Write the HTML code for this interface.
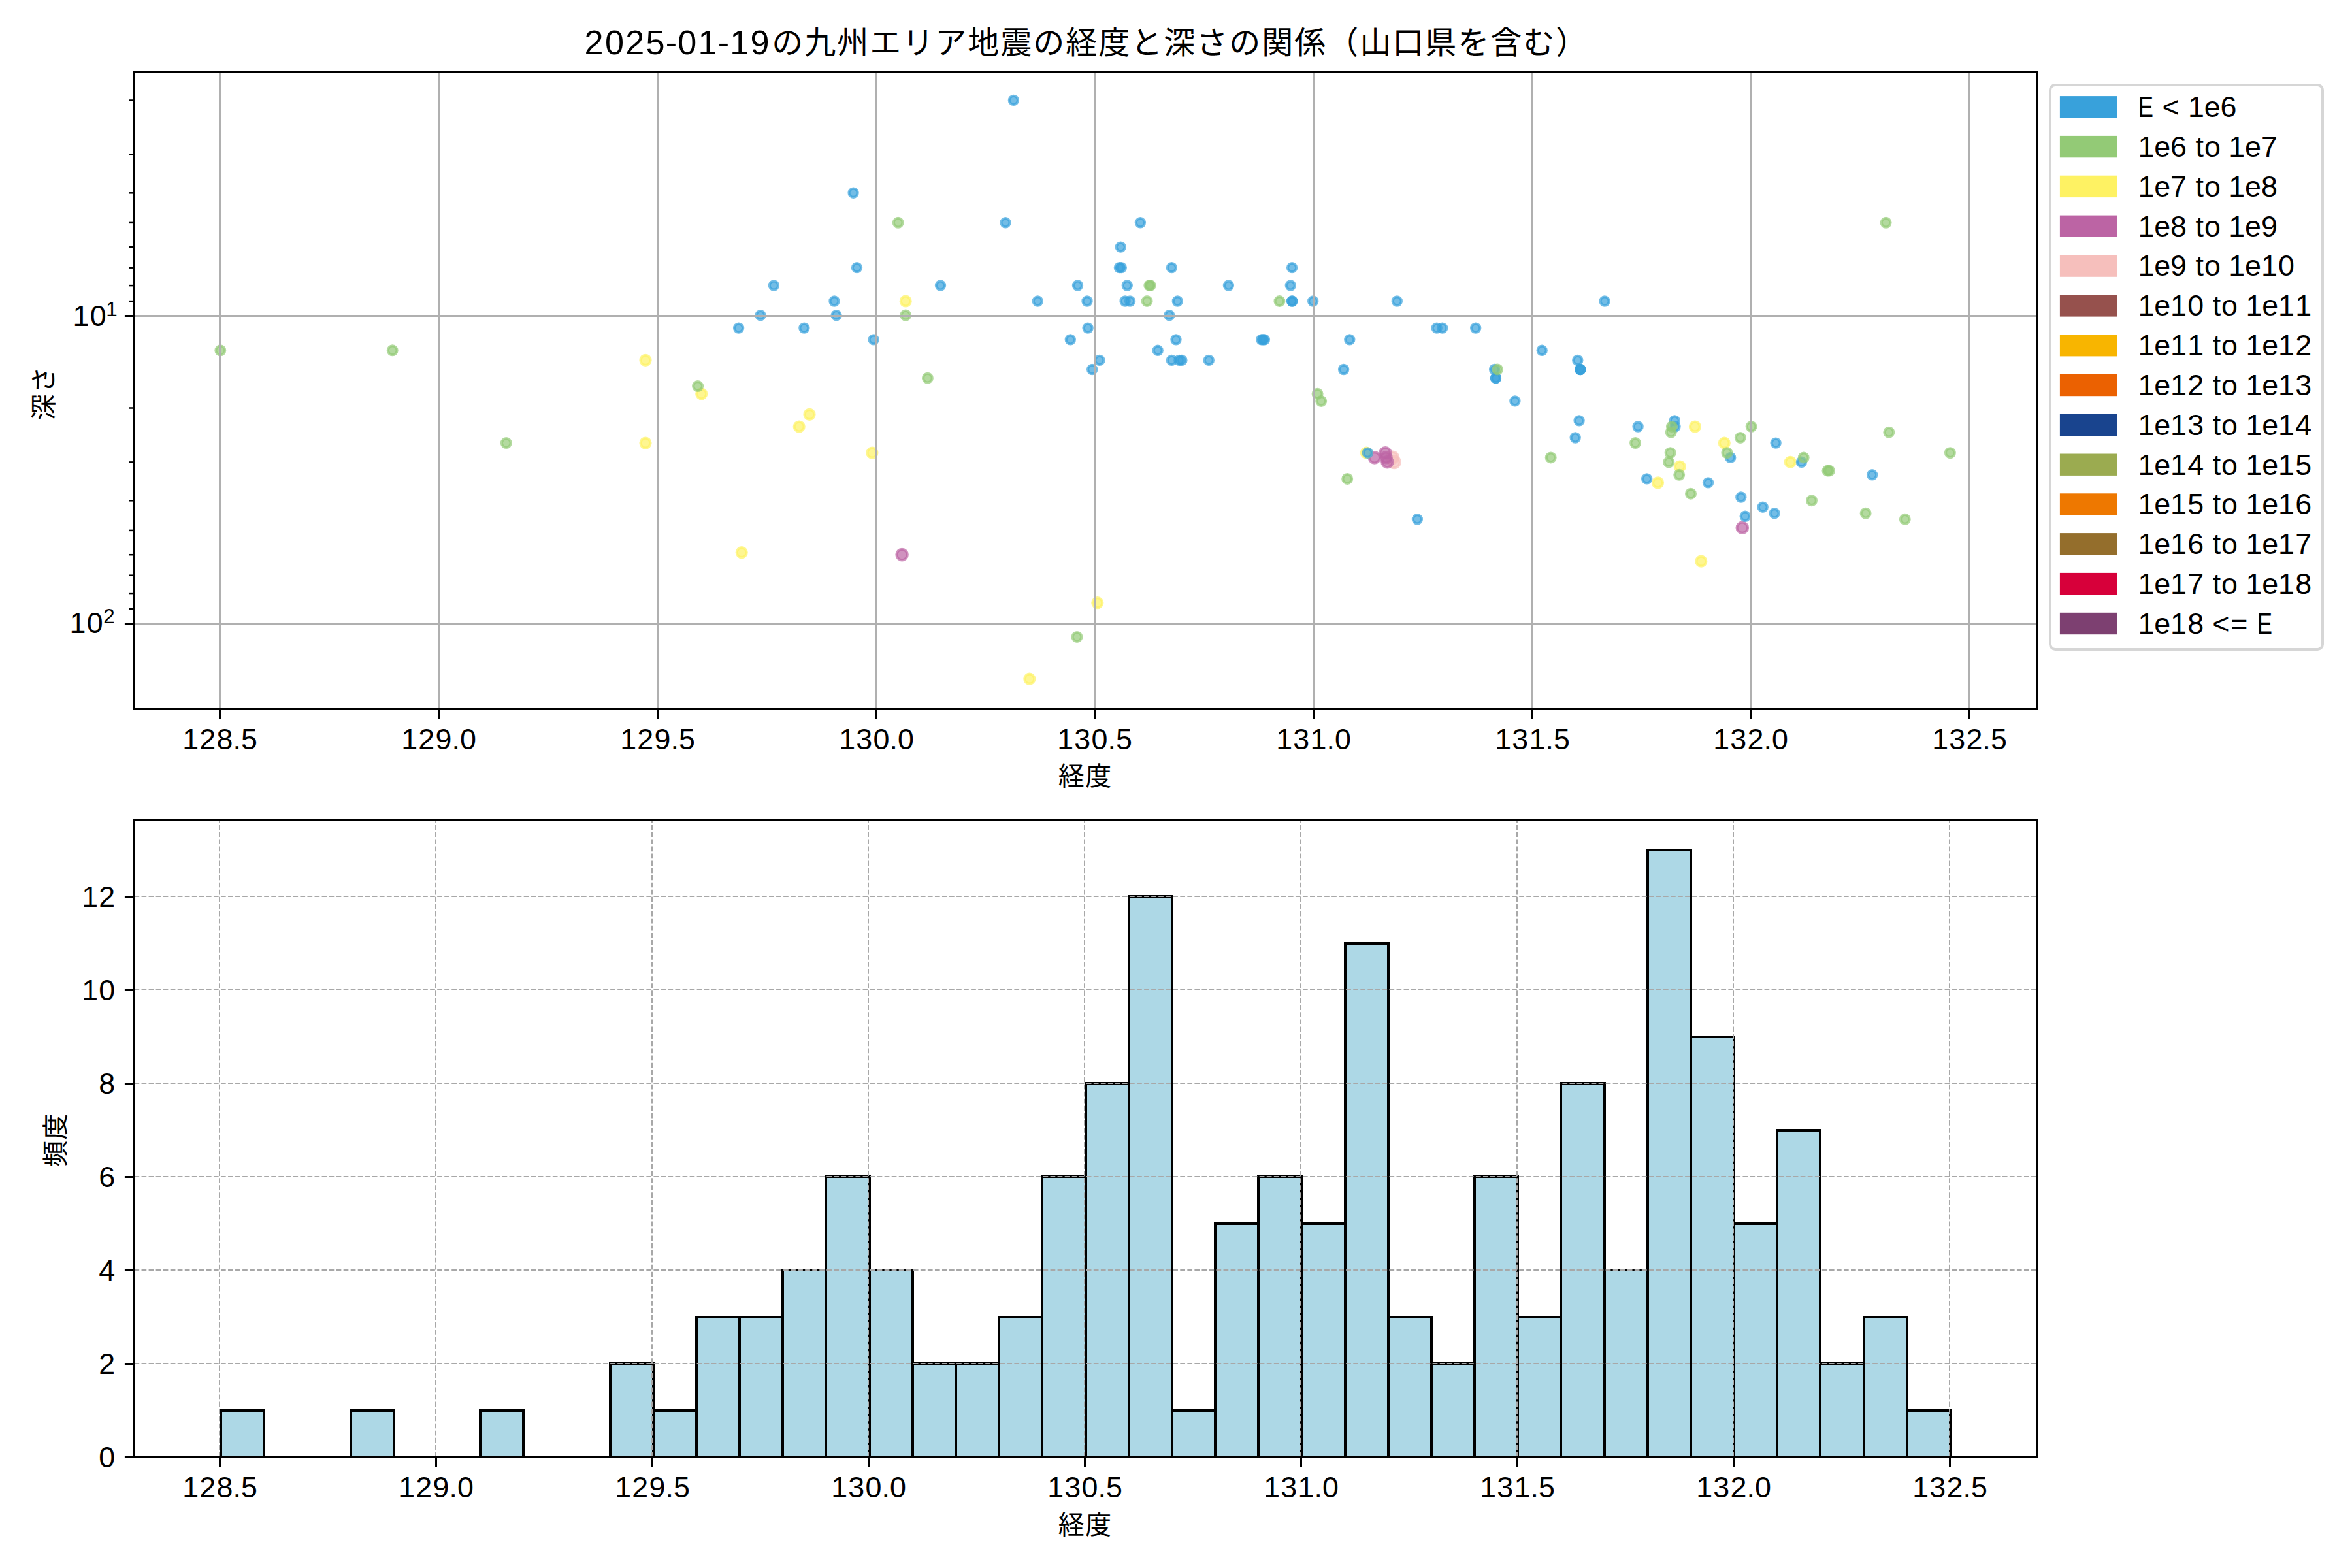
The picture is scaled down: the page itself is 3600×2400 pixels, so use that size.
<!DOCTYPE html>
<html lang="ja"><head><meta charset="utf-8"><title>2025-01-19の九州エリア地震の経度と深さの関係</title>
<style>html,body{margin:0;padding:0;background:#fff}svg{display:block}text{font-family:"Liberation Sans", "Noto Sans CJK JP", sans-serif;fill:#000}</style></head><body>
<svg width="3600" height="2400" viewBox="0 0 3600 2400">
<rect width="3600" height="2400" fill="#fff"/>
<g id="scatter">
<circle cx="2131.4" cy="700.4" r="8.80" fill="#f6bfbc" fill-opacity=".7" stroke="#f6bfbc" stroke-opacity=".7" stroke-width="4.17"/>
<circle cx="2134.0" cy="707.3" r="8.80" fill="#f6bfbc" fill-opacity=".7" stroke="#f6bfbc" stroke-opacity=".7" stroke-width="4.17"/>
<circle cx="2120.5" cy="693.2" r="8.20" fill="#bc64a4" fill-opacity=".7" stroke="#bc64a4" stroke-opacity=".7" stroke-width="4.17"/>
<circle cx="2121.5" cy="700.4" r="8.20" fill="#bc64a4" fill-opacity=".7" stroke="#bc64a4" stroke-opacity=".7" stroke-width="4.17"/>
<circle cx="2123.5" cy="707.3" r="8.20" fill="#bc64a4" fill-opacity=".7" stroke="#bc64a4" stroke-opacity=".7" stroke-width="4.17"/>
<circle cx="2103.9" cy="700.4" r="8.20" fill="#bc64a4" fill-opacity=".7" stroke="#bc64a4" stroke-opacity=".7" stroke-width="4.17"/>
<circle cx="1380.6" cy="849.1" r="8.20" fill="#bc64a4" fill-opacity=".7" stroke="#bc64a4" stroke-opacity=".7" stroke-width="4.17"/>
<circle cx="2666.8" cy="807.7" r="8.20" fill="#bc64a4" fill-opacity=".7" stroke="#bc64a4" stroke-opacity=".7" stroke-width="4.17"/>
<circle cx="988.0" cy="551.4" r="7.50" fill="#fef263" fill-opacity=".7" stroke="#fef263" stroke-opacity=".7" stroke-width="4.17"/>
<circle cx="988.0" cy="678.1" r="7.50" fill="#fef263" fill-opacity=".7" stroke="#fef263" stroke-opacity=".7" stroke-width="4.17"/>
<circle cx="1386.2" cy="461.0" r="7.50" fill="#fef263" fill-opacity=".7" stroke="#fef263" stroke-opacity=".7" stroke-width="4.17"/>
<circle cx="1073.7" cy="602.8" r="7.50" fill="#fef263" fill-opacity=".7" stroke="#fef263" stroke-opacity=".7" stroke-width="4.17"/>
<circle cx="1239.0" cy="634.4" r="7.50" fill="#fef263" fill-opacity=".7" stroke="#fef263" stroke-opacity=".7" stroke-width="4.17"/>
<circle cx="1223.2" cy="653.0" r="7.50" fill="#fef263" fill-opacity=".7" stroke="#fef263" stroke-opacity=".7" stroke-width="4.17"/>
<circle cx="1334.9" cy="693.2" r="7.50" fill="#fef263" fill-opacity=".7" stroke="#fef263" stroke-opacity=".7" stroke-width="4.17"/>
<circle cx="1135.2" cy="845.7" r="7.50" fill="#fef263" fill-opacity=".7" stroke="#fef263" stroke-opacity=".7" stroke-width="4.17"/>
<circle cx="2091.4" cy="693.2" r="7.50" fill="#fef263" fill-opacity=".7" stroke="#fef263" stroke-opacity=".7" stroke-width="4.17"/>
<circle cx="2594.4" cy="653.0" r="7.50" fill="#fef263" fill-opacity=".7" stroke="#fef263" stroke-opacity=".7" stroke-width="4.17"/>
<circle cx="2639.3" cy="678.1" r="7.50" fill="#fef263" fill-opacity=".7" stroke="#fef263" stroke-opacity=".7" stroke-width="4.17"/>
<circle cx="2571.2" cy="714.0" r="7.50" fill="#fef263" fill-opacity=".7" stroke="#fef263" stroke-opacity=".7" stroke-width="4.17"/>
<circle cx="2537.5" cy="738.9" r="7.50" fill="#fef263" fill-opacity=".7" stroke="#fef263" stroke-opacity=".7" stroke-width="4.17"/>
<circle cx="2740.3" cy="707.3" r="7.50" fill="#fef263" fill-opacity=".7" stroke="#fef263" stroke-opacity=".7" stroke-width="4.17"/>
<circle cx="2603.8" cy="859.1" r="7.50" fill="#fef263" fill-opacity=".7" stroke="#fef263" stroke-opacity=".7" stroke-width="4.17"/>
<circle cx="1679.8" cy="922.7" r="7.50" fill="#fef263" fill-opacity=".7" stroke="#fef263" stroke-opacity=".7" stroke-width="4.17"/>
<circle cx="1575.8" cy="1039.2" r="7.50" fill="#fef263" fill-opacity=".7" stroke="#fef263" stroke-opacity=".7" stroke-width="4.17"/>
<circle cx="1306.1" cy="295.2" r="6.60" fill="#38a1db" fill-opacity=".7" stroke="#38a1db" stroke-opacity=".7" stroke-width="4.17"/>
<circle cx="1539.0" cy="340.8" r="6.60" fill="#38a1db" fill-opacity=".7" stroke="#38a1db" stroke-opacity=".7" stroke-width="4.17"/>
<circle cx="1551.4" cy="153.4" r="6.60" fill="#38a1db" fill-opacity=".7" stroke="#38a1db" stroke-opacity=".7" stroke-width="4.17"/>
<circle cx="1311.5" cy="409.6" r="6.60" fill="#38a1db" fill-opacity=".7" stroke="#38a1db" stroke-opacity=".7" stroke-width="4.17"/>
<circle cx="1184.4" cy="437.0" r="6.60" fill="#38a1db" fill-opacity=".7" stroke="#38a1db" stroke-opacity=".7" stroke-width="4.17"/>
<circle cx="1439.5" cy="437.0" r="6.60" fill="#38a1db" fill-opacity=".7" stroke="#38a1db" stroke-opacity=".7" stroke-width="4.17"/>
<circle cx="1277.0" cy="461.0" r="6.60" fill="#38a1db" fill-opacity=".7" stroke="#38a1db" stroke-opacity=".7" stroke-width="4.17"/>
<circle cx="1164.0" cy="482.6" r="6.60" fill="#38a1db" fill-opacity=".7" stroke="#38a1db" stroke-opacity=".7" stroke-width="4.17"/>
<circle cx="1280.1" cy="482.6" r="6.60" fill="#38a1db" fill-opacity=".7" stroke="#38a1db" stroke-opacity=".7" stroke-width="4.17"/>
<circle cx="1130.6" cy="502.1" r="6.60" fill="#38a1db" fill-opacity=".7" stroke="#38a1db" stroke-opacity=".7" stroke-width="4.17"/>
<circle cx="1230.9" cy="502.1" r="6.60" fill="#38a1db" fill-opacity=".7" stroke="#38a1db" stroke-opacity=".7" stroke-width="4.17"/>
<circle cx="1337.2" cy="519.9" r="6.60" fill="#38a1db" fill-opacity=".7" stroke="#38a1db" stroke-opacity=".7" stroke-width="4.17"/>
<circle cx="1745.4" cy="340.8" r="6.60" fill="#38a1db" fill-opacity=".7" stroke="#38a1db" stroke-opacity=".7" stroke-width="4.17"/>
<circle cx="1715.3" cy="378.1" r="6.60" fill="#38a1db" fill-opacity=".7" stroke="#38a1db" stroke-opacity=".7" stroke-width="4.17"/>
<circle cx="1713.4" cy="409.6" r="6.60" fill="#38a1db" fill-opacity=".7" stroke="#38a1db" stroke-opacity=".7" stroke-width="4.17"/>
<circle cx="1716.3" cy="409.6" r="6.60" fill="#38a1db" fill-opacity=".7" stroke="#38a1db" stroke-opacity=".7" stroke-width="4.17"/>
<circle cx="1793.4" cy="409.6" r="6.60" fill="#38a1db" fill-opacity=".7" stroke="#38a1db" stroke-opacity=".7" stroke-width="4.17"/>
<circle cx="1977.6" cy="409.6" r="6.60" fill="#38a1db" fill-opacity=".7" stroke="#38a1db" stroke-opacity=".7" stroke-width="4.17"/>
<circle cx="1649.5" cy="437.0" r="6.60" fill="#38a1db" fill-opacity=".7" stroke="#38a1db" stroke-opacity=".7" stroke-width="4.17"/>
<circle cx="1725.3" cy="437.0" r="6.60" fill="#38a1db" fill-opacity=".7" stroke="#38a1db" stroke-opacity=".7" stroke-width="4.17"/>
<circle cx="1880.4" cy="437.0" r="6.60" fill="#38a1db" fill-opacity=".7" stroke="#38a1db" stroke-opacity=".7" stroke-width="4.17"/>
<circle cx="1975.3" cy="437.0" r="6.60" fill="#38a1db" fill-opacity=".7" stroke="#38a1db" stroke-opacity=".7" stroke-width="4.17"/>
<circle cx="1588.3" cy="461.0" r="6.60" fill="#38a1db" fill-opacity=".7" stroke="#38a1db" stroke-opacity=".7" stroke-width="4.17"/>
<circle cx="1664.0" cy="461.0" r="6.60" fill="#38a1db" fill-opacity=".7" stroke="#38a1db" stroke-opacity=".7" stroke-width="4.17"/>
<circle cx="1722.1" cy="461.0" r="6.60" fill="#38a1db" fill-opacity=".7" stroke="#38a1db" stroke-opacity=".7" stroke-width="4.17"/>
<circle cx="1729.6" cy="461.0" r="6.60" fill="#38a1db" fill-opacity=".7" stroke="#38a1db" stroke-opacity=".7" stroke-width="4.17"/>
<circle cx="1802.3" cy="461.0" r="6.60" fill="#38a1db" fill-opacity=".7" stroke="#38a1db" stroke-opacity=".7" stroke-width="4.17"/>
<circle cx="1977.7" cy="461.0" r="6.60" fill="#38a1db" fill-opacity=".7" stroke="#38a1db" stroke-opacity=".7" stroke-width="4.17"/>
<circle cx="1977.7" cy="461.0" r="6.60" fill="#38a1db" fill-opacity=".7" stroke="#38a1db" stroke-opacity=".7" stroke-width="4.17"/>
<circle cx="2009.7" cy="461.0" r="6.60" fill="#38a1db" fill-opacity=".7" stroke="#38a1db" stroke-opacity=".7" stroke-width="4.17"/>
<circle cx="1789.8" cy="482.6" r="6.60" fill="#38a1db" fill-opacity=".7" stroke="#38a1db" stroke-opacity=".7" stroke-width="4.17"/>
<circle cx="1665.1" cy="502.1" r="6.60" fill="#38a1db" fill-opacity=".7" stroke="#38a1db" stroke-opacity=".7" stroke-width="4.17"/>
<circle cx="1638.3" cy="519.9" r="6.60" fill="#38a1db" fill-opacity=".7" stroke="#38a1db" stroke-opacity=".7" stroke-width="4.17"/>
<circle cx="1800.0" cy="519.9" r="6.60" fill="#38a1db" fill-opacity=".7" stroke="#38a1db" stroke-opacity=".7" stroke-width="4.17"/>
<circle cx="1930.8" cy="519.9" r="6.60" fill="#38a1db" fill-opacity=".7" stroke="#38a1db" stroke-opacity=".7" stroke-width="4.17"/>
<circle cx="1933.1" cy="519.9" r="6.60" fill="#38a1db" fill-opacity=".7" stroke="#38a1db" stroke-opacity=".7" stroke-width="4.17"/>
<circle cx="1935.4" cy="519.9" r="6.60" fill="#38a1db" fill-opacity=".7" stroke="#38a1db" stroke-opacity=".7" stroke-width="4.17"/>
<circle cx="2065.8" cy="519.9" r="6.60" fill="#38a1db" fill-opacity=".7" stroke="#38a1db" stroke-opacity=".7" stroke-width="4.17"/>
<circle cx="1772.2" cy="536.3" r="6.60" fill="#38a1db" fill-opacity=".7" stroke="#38a1db" stroke-opacity=".7" stroke-width="4.17"/>
<circle cx="1682.9" cy="551.4" r="6.60" fill="#38a1db" fill-opacity=".7" stroke="#38a1db" stroke-opacity=".7" stroke-width="4.17"/>
<circle cx="1793.4" cy="551.4" r="6.60" fill="#38a1db" fill-opacity=".7" stroke="#38a1db" stroke-opacity=".7" stroke-width="4.17"/>
<circle cx="1804.9" cy="551.4" r="6.60" fill="#38a1db" fill-opacity=".7" stroke="#38a1db" stroke-opacity=".7" stroke-width="4.17"/>
<circle cx="1808.9" cy="551.4" r="6.60" fill="#38a1db" fill-opacity=".7" stroke="#38a1db" stroke-opacity=".7" stroke-width="4.17"/>
<circle cx="1850.3" cy="551.4" r="6.60" fill="#38a1db" fill-opacity=".7" stroke="#38a1db" stroke-opacity=".7" stroke-width="4.17"/>
<circle cx="1671.7" cy="565.5" r="6.60" fill="#38a1db" fill-opacity=".7" stroke="#38a1db" stroke-opacity=".7" stroke-width="4.17"/>
<circle cx="2056.6" cy="565.5" r="6.60" fill="#38a1db" fill-opacity=".7" stroke="#38a1db" stroke-opacity=".7" stroke-width="4.17"/>
<circle cx="2138.3" cy="461.0" r="6.60" fill="#38a1db" fill-opacity=".7" stroke="#38a1db" stroke-opacity=".7" stroke-width="4.17"/>
<circle cx="2456.1" cy="461.0" r="6.60" fill="#38a1db" fill-opacity=".7" stroke="#38a1db" stroke-opacity=".7" stroke-width="4.17"/>
<circle cx="2199.2" cy="502.1" r="6.60" fill="#38a1db" fill-opacity=".7" stroke="#38a1db" stroke-opacity=".7" stroke-width="4.17"/>
<circle cx="2207.7" cy="502.1" r="6.60" fill="#38a1db" fill-opacity=".7" stroke="#38a1db" stroke-opacity=".7" stroke-width="4.17"/>
<circle cx="2258.7" cy="502.1" r="6.60" fill="#38a1db" fill-opacity=".7" stroke="#38a1db" stroke-opacity=".7" stroke-width="4.17"/>
<circle cx="2360.2" cy="536.3" r="6.60" fill="#38a1db" fill-opacity=".7" stroke="#38a1db" stroke-opacity=".7" stroke-width="4.17"/>
<circle cx="2414.8" cy="551.4" r="6.60" fill="#38a1db" fill-opacity=".7" stroke="#38a1db" stroke-opacity=".7" stroke-width="4.17"/>
<circle cx="2418.8" cy="565.5" r="6.60" fill="#38a1db" fill-opacity=".7" stroke="#38a1db" stroke-opacity=".7" stroke-width="4.17"/>
<circle cx="2418.8" cy="565.5" r="6.60" fill="#38a1db" fill-opacity=".7" stroke="#38a1db" stroke-opacity=".7" stroke-width="4.17"/>
<circle cx="2418.8" cy="565.5" r="6.60" fill="#38a1db" fill-opacity=".7" stroke="#38a1db" stroke-opacity=".7" stroke-width="4.17"/>
<circle cx="2287.6" cy="565.5" r="6.60" fill="#38a1db" fill-opacity=".7" stroke="#38a1db" stroke-opacity=".7" stroke-width="4.17"/>
<circle cx="2289.5" cy="578.7" r="6.60" fill="#38a1db" fill-opacity=".7" stroke="#38a1db" stroke-opacity=".7" stroke-width="4.17"/>
<circle cx="2289.5" cy="578.7" r="6.60" fill="#38a1db" fill-opacity=".7" stroke="#38a1db" stroke-opacity=".7" stroke-width="4.17"/>
<circle cx="2318.9" cy="613.9" r="6.60" fill="#38a1db" fill-opacity=".7" stroke="#38a1db" stroke-opacity=".7" stroke-width="4.17"/>
<circle cx="2417.1" cy="643.9" r="6.60" fill="#38a1db" fill-opacity=".7" stroke="#38a1db" stroke-opacity=".7" stroke-width="4.17"/>
<circle cx="2411.2" cy="670.0" r="6.60" fill="#38a1db" fill-opacity=".7" stroke="#38a1db" stroke-opacity=".7" stroke-width="4.17"/>
<circle cx="2507.1" cy="653.0" r="6.60" fill="#38a1db" fill-opacity=".7" stroke="#38a1db" stroke-opacity=".7" stroke-width="4.17"/>
<circle cx="2563.3" cy="643.9" r="6.60" fill="#38a1db" fill-opacity=".7" stroke="#38a1db" stroke-opacity=".7" stroke-width="4.17"/>
<circle cx="2564.0" cy="653.0" r="6.60" fill="#38a1db" fill-opacity=".7" stroke="#38a1db" stroke-opacity=".7" stroke-width="4.17"/>
<circle cx="2648.7" cy="700.4" r="6.60" fill="#38a1db" fill-opacity=".7" stroke="#38a1db" stroke-opacity=".7" stroke-width="4.17"/>
<circle cx="2520.7" cy="732.9" r="6.60" fill="#38a1db" fill-opacity=".7" stroke="#38a1db" stroke-opacity=".7" stroke-width="4.17"/>
<circle cx="2614.5" cy="738.9" r="6.60" fill="#38a1db" fill-opacity=".7" stroke="#38a1db" stroke-opacity=".7" stroke-width="4.17"/>
<circle cx="2169.4" cy="794.8" r="6.60" fill="#38a1db" fill-opacity=".7" stroke="#38a1db" stroke-opacity=".7" stroke-width="4.17"/>
<circle cx="2093.4" cy="693.2" r="6.60" fill="#38a1db" fill-opacity=".7" stroke="#38a1db" stroke-opacity=".7" stroke-width="4.17"/>
<circle cx="2718.1" cy="678.1" r="6.60" fill="#38a1db" fill-opacity=".7" stroke="#38a1db" stroke-opacity=".7" stroke-width="4.17"/>
<circle cx="2757.4" cy="707.3" r="6.60" fill="#38a1db" fill-opacity=".7" stroke="#38a1db" stroke-opacity=".7" stroke-width="4.17"/>
<circle cx="2865.6" cy="726.8" r="6.60" fill="#38a1db" fill-opacity=".7" stroke="#38a1db" stroke-opacity=".7" stroke-width="4.17"/>
<circle cx="2664.8" cy="761.0" r="6.60" fill="#38a1db" fill-opacity=".7" stroke="#38a1db" stroke-opacity=".7" stroke-width="4.17"/>
<circle cx="2698.2" cy="776.2" r="6.60" fill="#38a1db" fill-opacity=".7" stroke="#38a1db" stroke-opacity=".7" stroke-width="4.17"/>
<circle cx="2716.1" cy="785.7" r="6.60" fill="#38a1db" fill-opacity=".7" stroke="#38a1db" stroke-opacity=".7" stroke-width="4.17"/>
<circle cx="2671.2" cy="790.3" r="6.60" fill="#38a1db" fill-opacity=".7" stroke="#38a1db" stroke-opacity=".7" stroke-width="4.17"/>
<circle cx="337.3" cy="536.3" r="6.90" fill="#93ca76" fill-opacity=".7" stroke="#93ca76" stroke-opacity=".7" stroke-width="4.17"/>
<circle cx="600.7" cy="536.3" r="6.90" fill="#93ca76" fill-opacity=".7" stroke="#93ca76" stroke-opacity=".7" stroke-width="4.17"/>
<circle cx="774.8" cy="678.1" r="6.90" fill="#93ca76" fill-opacity=".7" stroke="#93ca76" stroke-opacity=".7" stroke-width="4.17"/>
<circle cx="1374.7" cy="340.8" r="6.90" fill="#93ca76" fill-opacity=".7" stroke="#93ca76" stroke-opacity=".7" stroke-width="4.17"/>
<circle cx="1386.2" cy="482.6" r="6.90" fill="#93ca76" fill-opacity=".7" stroke="#93ca76" stroke-opacity=".7" stroke-width="4.17"/>
<circle cx="1068.1" cy="591.1" r="6.90" fill="#93ca76" fill-opacity=".7" stroke="#93ca76" stroke-opacity=".7" stroke-width="4.17"/>
<circle cx="1419.9" cy="578.7" r="6.90" fill="#93ca76" fill-opacity=".7" stroke="#93ca76" stroke-opacity=".7" stroke-width="4.17"/>
<circle cx="1759.3" cy="437.0" r="6.90" fill="#93ca76" fill-opacity=".7" stroke="#93ca76" stroke-opacity=".7" stroke-width="4.17"/>
<circle cx="1760.8" cy="437.0" r="6.90" fill="#93ca76" fill-opacity=".7" stroke="#93ca76" stroke-opacity=".7" stroke-width="4.17"/>
<circle cx="1755.6" cy="461.0" r="6.90" fill="#93ca76" fill-opacity=".7" stroke="#93ca76" stroke-opacity=".7" stroke-width="4.17"/>
<circle cx="1958.4" cy="461.0" r="6.90" fill="#93ca76" fill-opacity=".7" stroke="#93ca76" stroke-opacity=".7" stroke-width="4.17"/>
<circle cx="2016.6" cy="602.8" r="6.90" fill="#93ca76" fill-opacity=".7" stroke="#93ca76" stroke-opacity=".7" stroke-width="4.17"/>
<circle cx="2022.2" cy="613.9" r="6.90" fill="#93ca76" fill-opacity=".7" stroke="#93ca76" stroke-opacity=".7" stroke-width="4.17"/>
<circle cx="2062.2" cy="732.9" r="6.90" fill="#93ca76" fill-opacity=".7" stroke="#93ca76" stroke-opacity=".7" stroke-width="4.17"/>
<circle cx="2292.1" cy="565.5" r="6.90" fill="#93ca76" fill-opacity=".7" stroke="#93ca76" stroke-opacity=".7" stroke-width="4.17"/>
<circle cx="2558.9" cy="653.0" r="6.90" fill="#93ca76" fill-opacity=".7" stroke="#93ca76" stroke-opacity=".7" stroke-width="4.17"/>
<circle cx="2557.7" cy="661.7" r="6.90" fill="#93ca76" fill-opacity=".7" stroke="#93ca76" stroke-opacity=".7" stroke-width="4.17"/>
<circle cx="2503.1" cy="678.1" r="6.90" fill="#93ca76" fill-opacity=".7" stroke="#93ca76" stroke-opacity=".7" stroke-width="4.17"/>
<circle cx="2556.6" cy="693.2" r="6.90" fill="#93ca76" fill-opacity=".7" stroke="#93ca76" stroke-opacity=".7" stroke-width="4.17"/>
<circle cx="2643.4" cy="693.2" r="6.90" fill="#93ca76" fill-opacity=".7" stroke="#93ca76" stroke-opacity=".7" stroke-width="4.17"/>
<circle cx="2554.3" cy="707.3" r="6.90" fill="#93ca76" fill-opacity=".7" stroke="#93ca76" stroke-opacity=".7" stroke-width="4.17"/>
<circle cx="2570.2" cy="726.8" r="6.90" fill="#93ca76" fill-opacity=".7" stroke="#93ca76" stroke-opacity=".7" stroke-width="4.17"/>
<circle cx="2373.7" cy="700.4" r="6.90" fill="#93ca76" fill-opacity=".7" stroke="#93ca76" stroke-opacity=".7" stroke-width="4.17"/>
<circle cx="2588.0" cy="755.7" r="6.90" fill="#93ca76" fill-opacity=".7" stroke="#93ca76" stroke-opacity=".7" stroke-width="4.17"/>
<circle cx="2680.6" cy="653.0" r="6.90" fill="#93ca76" fill-opacity=".7" stroke="#93ca76" stroke-opacity=".7" stroke-width="4.17"/>
<circle cx="2663.8" cy="670.0" r="6.90" fill="#93ca76" fill-opacity=".7" stroke="#93ca76" stroke-opacity=".7" stroke-width="4.17"/>
<circle cx="2891.3" cy="661.7" r="6.90" fill="#93ca76" fill-opacity=".7" stroke="#93ca76" stroke-opacity=".7" stroke-width="4.17"/>
<circle cx="2984.9" cy="693.2" r="6.90" fill="#93ca76" fill-opacity=".7" stroke="#93ca76" stroke-opacity=".7" stroke-width="4.17"/>
<circle cx="2760.7" cy="700.4" r="6.90" fill="#93ca76" fill-opacity=".7" stroke="#93ca76" stroke-opacity=".7" stroke-width="4.17"/>
<circle cx="2797.5" cy="720.5" r="6.90" fill="#93ca76" fill-opacity=".7" stroke="#93ca76" stroke-opacity=".7" stroke-width="4.17"/>
<circle cx="2800.0" cy="720.5" r="6.90" fill="#93ca76" fill-opacity=".7" stroke="#93ca76" stroke-opacity=".7" stroke-width="4.17"/>
<circle cx="2773.0" cy="766.2" r="6.90" fill="#93ca76" fill-opacity=".7" stroke="#93ca76" stroke-opacity=".7" stroke-width="4.17"/>
<circle cx="2855.6" cy="785.7" r="6.90" fill="#93ca76" fill-opacity=".7" stroke="#93ca76" stroke-opacity=".7" stroke-width="4.17"/>
<circle cx="2915.8" cy="794.8" r="6.90" fill="#93ca76" fill-opacity=".7" stroke="#93ca76" stroke-opacity=".7" stroke-width="4.17"/>
<circle cx="2886.6" cy="340.8" r="6.90" fill="#93ca76" fill-opacity=".7" stroke="#93ca76" stroke-opacity=".7" stroke-width="4.17"/>
<circle cx="1648.5" cy="974.9" r="6.90" fill="#93ca76" fill-opacity=".7" stroke="#93ca76" stroke-opacity=".7" stroke-width="4.17"/>
</g>
<g stroke="#b0b0b0" stroke-width="3.00" fill="none">
<path d="M336.5 1085.5V109.5"/>
<path d="M671.5 1085.5V109.5"/>
<path d="M1006.5 1085.5V109.5"/>
<path d="M1341.5 1085.5V109.5"/>
<path d="M1675.5 1085.5V109.5"/>
<path d="M2010.5 1085.5V109.5"/>
<path d="M2345.5 1085.5V109.5"/>
<path d="M2679.5 1085.5V109.5"/>
<path d="M3014.5 1085.5V109.5"/>
<path d="M205.5 483.5H3118.5"/>
<path d="M205.5 954.5H3118.5"/>
</g>
<g stroke="#000" fill="none">
<g stroke-width="3.00">
<path d="M336.5 1085.5v14.6"/>
<path d="M671.5 1085.5v14.6"/>
<path d="M1006.5 1085.5v14.6"/>
<path d="M1341.5 1085.5v14.6"/>
<path d="M1675.5 1085.5v14.6"/>
<path d="M2010.5 1085.5v14.6"/>
<path d="M2345.5 1085.5v14.6"/>
<path d="M2679.5 1085.5v14.6"/>
<path d="M3014.5 1085.5v14.6"/>
<path d="M205.5 483.5h-14.6"/>
<path d="M205.5 954.5h-14.6"/>
<path d="M336.5 2230.5v14.6"/>
<path d="M667.5 2230.5v14.6"/>
<path d="M998.5 2230.5v14.6"/>
<path d="M1329.5 2230.5v14.6"/>
<path d="M1660.5 2230.5v14.6"/>
<path d="M1991.5 2230.5v14.6"/>
<path d="M2322.5 2230.5v14.6"/>
<path d="M2653.5 2230.5v14.6"/>
<path d="M2984.5 2230.5v14.6"/>
<path d="M205.5 2230.5h-14.6"/>
<path d="M205.5 2087.5h-14.6"/>
<path d="M205.5 1944.5h-14.6"/>
<path d="M205.5 1801.5h-14.6"/>
<path d="M205.5 1658.5h-14.6"/>
<path d="M205.5 1515.5h-14.6"/>
<path d="M205.5 1372.5h-14.6"/>
</g><g stroke-width="2.5">
<path d="M205.5 153.5h-8.3"/>
<path d="M205.5 236.4h-8.3"/>
<path d="M205.5 295.3h-8.3"/>
<path d="M205.5 340.9h-8.3"/>
<path d="M205.5 378.2h-8.3"/>
<path d="M205.5 409.7h-8.3"/>
<path d="M205.5 437.1h-8.3"/>
<path d="M205.5 461.1h-8.3"/>
<path d="M205.5 624.5h-8.3"/>
<path d="M205.5 707.4h-8.3"/>
<path d="M205.5 766.3h-8.3"/>
<path d="M205.5 811.9h-8.3"/>
<path d="M205.5 849.2h-8.3"/>
<path d="M205.5 880.7h-8.3"/>
<path d="M205.5 908.1h-8.3"/>
<path d="M205.5 932.1h-8.3"/>
</g></g>
<rect x="205.5" y="109.5" width="2913.0" height="976.0" fill="none" stroke="#000" stroke-width="3.00"/>
<g fill="#add8e6" stroke="#000" stroke-width="4">
<rect x="338" y="2159" width="66" height="71"/>
<path d="M404 2230h66" stroke-linecap="square"/>
<path d="M470 2230h67" stroke-linecap="square"/>
<rect x="537" y="2159" width="66" height="71"/>
<path d="M603 2230h66" stroke-linecap="square"/>
<path d="M669 2230h66" stroke-linecap="square"/>
<rect x="735" y="2159" width="66" height="71"/>
<path d="M801 2230h66" stroke-linecap="square"/>
<path d="M867 2230h67" stroke-linecap="square"/>
<rect x="934" y="2087" width="66" height="143"/>
<rect x="1000" y="2159" width="66" height="71"/>
<rect x="1066" y="2016" width="66" height="214"/>
<rect x="1132" y="2016" width="66" height="214"/>
<rect x="1198" y="1944" width="66" height="286"/>
<rect x="1264" y="1801" width="67" height="429"/>
<rect x="1331" y="1944" width="66" height="286"/>
<rect x="1397" y="2087" width="66" height="143"/>
<rect x="1463" y="2087" width="66" height="143"/>
<rect x="1529" y="2016" width="66" height="214"/>
<rect x="1595" y="1801" width="67" height="429"/>
<rect x="1662" y="1658" width="66" height="572"/>
<rect x="1728" y="1372" width="66" height="858"/>
<rect x="1794" y="2159" width="66" height="71"/>
<rect x="1860" y="1873" width="66" height="357"/>
<rect x="1926" y="1801" width="66" height="429"/>
<rect x="1992" y="1873" width="67" height="357"/>
<rect x="2059" y="1444" width="66" height="786"/>
<rect x="2125" y="2016" width="66" height="214"/>
<rect x="2191" y="2087" width="66" height="143"/>
<rect x="2257" y="1801" width="66" height="429"/>
<rect x="2323" y="2016" width="66" height="214"/>
<rect x="2389" y="1658" width="67" height="572"/>
<rect x="2456" y="1944" width="66" height="286"/>
<rect x="2522" y="1301" width="66" height="929"/>
<rect x="2588" y="1587" width="66" height="643"/>
<rect x="2654" y="1873" width="66" height="357"/>
<rect x="2720" y="1730" width="66" height="500"/>
<rect x="2786" y="2087" width="67" height="143"/>
<rect x="2853" y="2016" width="66" height="214"/>
<rect x="2919" y="2159" width="66" height="71"/>
</g>
<g stroke="#a8a8a8" stroke-width="2" stroke-dasharray="7.71 3.33" fill="none">
<path d="M336.0 2230.5V1254.5"/>
<path d="M667.0 2230.5V1254.5"/>
<path d="M998.0 2230.5V1254.5"/>
<path d="M1329.0 2230.5V1254.5"/>
<path d="M1660.0 2230.5V1254.5"/>
<path d="M1991.0 2230.5V1254.5"/>
<path d="M2322.0 2230.5V1254.5"/>
<path d="M2653.0 2230.5V1254.5"/>
<path d="M2984.0 2230.5V1254.5"/>
<path d="M205.5 2230.0H3118.5"/>
<path d="M205.5 2087.0H3118.5"/>
<path d="M205.5 1944.0H3118.5"/>
<path d="M205.5 1801.0H3118.5"/>
<path d="M205.5 1658.0H3118.5"/>
<path d="M205.5 1515.0H3118.5"/>
<path d="M205.5 1372.0H3118.5"/>
</g>
<rect x="205.5" y="1254.5" width="2913.0" height="976.0" fill="none" stroke="#000" stroke-width="3.00"/>
<rect x="3138.0" y="130.0" width="417.0" height="863.9" rx="7.7" fill="#fff" stroke="#d6d6d6" stroke-width="4"/>
<rect x="3152.9" y="147.1" width="87.2" height="33.4" fill="#38a1db"/>
<rect x="3152.9" y="207.9" width="87.2" height="33.4" fill="#93ca76"/>
<rect x="3152.9" y="268.7" width="87.2" height="33.4" fill="#fef263"/>
<rect x="3152.9" y="329.6" width="87.2" height="33.4" fill="#bc64a4"/>
<rect x="3152.9" y="390.4" width="87.2" height="33.4" fill="#f6bfbc"/>
<rect x="3152.9" y="451.2" width="87.2" height="33.4" fill="#96514d"/>
<rect x="3152.9" y="512.0" width="87.2" height="33.4" fill="#f8b500"/>
<rect x="3152.9" y="572.8" width="87.2" height="33.4" fill="#eb6101"/>
<rect x="3152.9" y="633.7" width="87.2" height="33.4" fill="#19448e"/>
<rect x="3152.9" y="694.5" width="87.2" height="33.4" fill="#9bab50"/>
<rect x="3152.9" y="755.3" width="87.2" height="33.4" fill="#ee7800"/>
<rect x="3152.9" y="816.1" width="87.2" height="33.4" fill="#946e2c"/>
<rect x="3152.9" y="876.9" width="87.2" height="33.4" fill="#d7003a"/>
<rect x="3152.9" y="937.8" width="87.2" height="33.4" fill="#7d4071"/>
<g id="texts">
<text id="leg0" x="3272.8 3296.8 3309.6 3336.1 3348.9 3373.7 3398.6" y="179.1" font-size="44.80"><tspan textLength="23.2" lengthAdjust="spacingAndGlyphs">E</tspan> &lt; 1e6</text>
<text id="leg1" x="3272.4 3297.2 3322.1 3347.4 3360.6 3373.9 3398.5 3411.3 3436.1 3461.0" y="239.9" font-size="44.80">1e6 to 1e7</text>
<text id="leg2" x="3272.4 3297.2 3322.1 3347.4 3360.6 3373.9 3398.5 3411.3 3436.1 3461.0" y="300.7" font-size="44.80">1e7 to 1e8</text>
<text id="leg3" x="3272.4 3297.2 3322.1 3347.4 3360.6 3373.9 3398.5 3411.3 3436.1 3461.0" y="361.6" font-size="44.80">1e8 to 1e9</text>
<text id="leg4" x="3272.4 3297.2 3322.1 3347.4 3360.6 3373.9 3398.5 3411.3 3436.1 3461.0 3487.1" y="422.4" font-size="44.80">1e9 to 1e10</text>
<text id="leg5" x="3272.4 3297.2 3322.1 3348.2 3373.5 3386.7 3400.0 3424.6 3437.4 3462.2 3487.1 3513.2" y="483.2" font-size="44.80">1e10 to 1e11</text>
<text id="leg6" x="3272.4 3297.2 3322.1 3348.2 3373.5 3386.7 3400.0 3424.6 3437.4 3462.2 3487.1 3513.2" y="544.0" font-size="44.80">1e11 to 1e12</text>
<text id="leg7" x="3272.4 3297.2 3322.1 3348.2 3373.5 3386.7 3400.0 3424.6 3437.4 3462.2 3487.1 3513.2" y="604.8" font-size="44.80">1e12 to 1e13</text>
<text id="leg8" x="3272.4 3297.2 3322.1 3348.2 3373.5 3386.7 3400.0 3424.6 3437.4 3462.2 3487.1 3513.2" y="665.7" font-size="44.80">1e13 to 1e14</text>
<text id="leg9" x="3272.4 3297.2 3322.1 3348.2 3373.5 3386.7 3400.0 3424.6 3437.4 3462.2 3487.1 3513.2" y="726.5" font-size="44.80">1e14 to 1e15</text>
<text id="leg10" x="3272.4 3297.2 3322.1 3348.2 3373.5 3386.7 3400.0 3424.6 3437.4 3462.2 3487.1 3513.2" y="787.3" font-size="44.80">1e15 to 1e16</text>
<text id="leg11" x="3272.4 3297.2 3322.1 3348.2 3373.5 3386.7 3400.0 3424.6 3437.4 3462.2 3487.1 3513.2" y="848.1" font-size="44.80">1e16 to 1e17</text>
<text id="leg12" x="3272.4 3297.2 3322.1 3348.2 3373.5 3386.7 3400.0 3424.6 3437.4 3462.2 3487.1 3513.2" y="908.9" font-size="44.80">1e17 to 1e18</text>
<text id="leg13" x="3272.4 3297.2 3322.1 3348.2 3373.5 3386.3 3414.3 3441.6 3454.8" y="969.8" font-size="44.80">1e18 &lt;= <tspan textLength="23.2" lengthAdjust="spacingAndGlyphs">E</tspan></text>
<text id="titleA" x="894.5 925.9 957.2 988.5 1018.7 1037.2 1068.5 1098.7 1117.3 1148.6" y="83.0" font-size="52.20">2025-01-19</text>
<text id="titleB" x="1181.3" y="81.7" font-size="48.00" letter-spacing="2.00">の九州エリア地震の経度と深さの関係（山口県を含む）</text>
<text id="xt1_0" x="279.2 305.3 331.4 356.4 368.9" y="1147.0" font-size="44.80">128.5</text>
<text id="xt1_1" x="614.2 640.3 666.4 691.4 703.9" y="1147.0" font-size="44.80">129.0</text>
<text id="xt1_2" x="949.2 975.3 1001.4 1026.4 1038.9" y="1147.0" font-size="44.80">129.5</text>
<text id="xt1_3" x="1284.2 1310.3 1336.4 1361.4 1373.9" y="1147.0" font-size="44.80">130.0</text>
<text id="xt1_4" x="1618.2 1644.3 1670.4 1695.4 1707.9" y="1147.0" font-size="44.80">130.5</text>
<text id="xt1_5" x="1953.2 1979.3 2005.4 2030.4 2042.9" y="1147.0" font-size="44.80">131.0</text>
<text id="xt1_6" x="2288.2 2314.3 2340.4 2365.4 2377.9" y="1147.0" font-size="44.80">131.5</text>
<text id="xt1_7" x="2622.2 2648.3 2674.4 2699.4 2711.9" y="1147.0" font-size="44.80">132.0</text>
<text id="xt1_8" x="2957.2 2983.3 3009.4 3034.4 3046.9" y="1147.0" font-size="44.80">132.5</text>
<text id="xt2_0" x="279.2 305.3 331.4 356.4 368.9" y="2291.7" font-size="44.80">128.5</text>
<text id="xt2_1" x="610.2 636.3 662.4 687.4 699.9" y="2291.7" font-size="44.80">129.0</text>
<text id="xt2_2" x="941.2 967.3 993.4 1018.4 1030.9" y="2291.7" font-size="44.80">129.5</text>
<text id="xt2_3" x="1272.2 1298.3 1324.4 1349.4 1361.9" y="2291.7" font-size="44.80">130.0</text>
<text id="xt2_4" x="1603.2 1629.3 1655.4 1680.4 1692.9" y="2291.7" font-size="44.80">130.5</text>
<text id="xt2_5" x="1934.2 1960.3 1986.4 2011.4 2023.9" y="2291.7" font-size="44.80">131.0</text>
<text id="xt2_6" x="2265.2 2291.3 2317.4 2342.4 2354.9" y="2291.7" font-size="44.80">131.5</text>
<text id="xt2_7" x="2596.2 2622.3 2648.4 2673.4 2685.9" y="2291.7" font-size="44.80">132.0</text>
<text id="xt2_8" x="2927.2 2953.3 2979.4 3004.4 3016.9" y="2291.7" font-size="44.80">132.5</text>
<text id="yt2_0" x="151.3" y="2245.5" font-size="44.80">0</text>
<text id="yt2_2" x="151.3" y="2102.5" font-size="44.80">2</text>
<text id="yt2_4" x="151.3" y="1959.6" font-size="44.80">4</text>
<text id="yt2_6" x="151.3" y="1816.6" font-size="44.80">6</text>
<text id="yt2_8" x="151.3" y="1673.7" font-size="44.80">8</text>
<text id="yt2_10" x="125.2 151.3" y="1530.7" font-size="44.80">10</text>
<text id="yt2_12" x="125.2 151.3" y="1387.7" font-size="44.80">12</text>
<text id="y10a" x="111.6 137.7" y="499.0" font-size="44.80">10</text>
<text id="y10as" x="162.2" y="483.7" font-size="31.40">1</text>
<text id="y10b" x="106.6 132.7" y="968.8" font-size="44.80">10</text>
<text id="y10bs" x="158.2" y="953.5" font-size="31.40">2</text>
<text id="xl1" x="1661.3" y="1202.1" font-size="40.00" letter-spacing="1.67" text-anchor="middle">経度</text>
<text id="xl2" x="1661.3" y="2348.0" font-size="40.00" letter-spacing="1.67" text-anchor="middle">経度</text>
<text id="yl1" font-size="40.00" letter-spacing="1.67" text-anchor="middle" transform="translate(80.6 601.5) rotate(-90)">深さ</text>
<text id="yl2" font-size="40.00" letter-spacing="1.67" text-anchor="middle" transform="translate(99.3 1744.4) rotate(-90)">頻度</text>
</g>
</svg></body></html>
